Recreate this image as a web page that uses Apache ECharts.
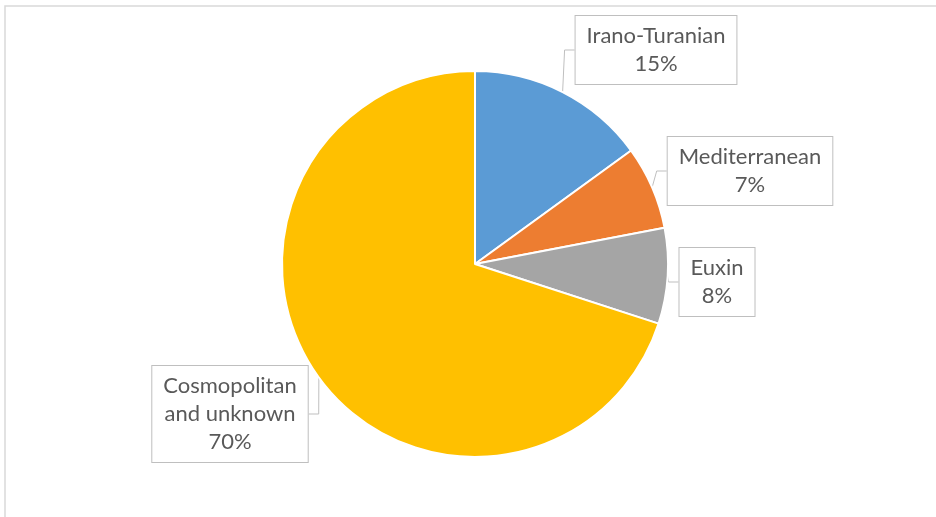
<!DOCTYPE html>
<html>
<head>
<meta charset="utf-8">
<script src="https://cdn.jsdelivr.net/npm/echarts@6/dist/echarts.min.js"></script>
<style>
  html, body { margin: 0; padding: 0; background: #fff; }
  #chart { width: 936px; height: 517px; }
</style>
</head>
<body>
<div id="chart"></div>
<script>
// Floristic elements and their share of the flora (%)
const categories = ['Irano-Turanian', 'Mediterranean', 'Euxin', 'Cosmopolitan\nand unknown'];
const shares = [15, 7, 8, 70];
const colors = ['#5B9BD5', '#ED7D31', '#A5A5A5', '#FFC000'];

// Callout box centres, one per slice
const calloutCentres = [[656, 50], [750, 171], [717, 282], [230, 414]];

const chart = echarts.init(document.getElementById('chart'), null, { renderer: 'canvas' });

chart.setOption({
  animation: false,
  graphic: [{
    type: 'rect',
    shape: { x: 5, y: 6, width: 960, height: 540 },
    style: { fill: 'none', stroke: '#D9D9D9', lineWidth: 1.5 },
    silent: true
  }],
  series: [{
    type: 'pie',
    center: [475, 264],
    radius: 193,
    startAngle: 90,
    clockwise: true,
    itemStyle: { borderColor: '#ffffff', borderWidth: 2 },
    data: categories.map((name, i) => ({
      name: name,
      value: shares[i],
      itemStyle: { color: colors[i] }
    })),
    label: {
      show: true,
      formatter: '{b}\n{c}%',
      fontFamily: 'Lato',
      fontSize: 22,
      lineHeight: 28,
      color: '#595959',
      align: 'center',
      backgroundColor: '#ffffff',
      borderColor: '#BFBFBF',
      borderWidth: 1,
      padding: [6, 11, 6, 11]
    },
    labelLine: {
      show: true,
      length: 15,
      length2: 10,
      lineStyle: { color: '#BFBFBF', width: 1 }
    },
    labelLayout: function (params) {
      const c = calloutCentres[params.dataIndex];
      return { x: c[0], y: c[1], align: 'center', verticalAlign: 'middle' };
    }
  }]
});
</script>
</body>
</html>
